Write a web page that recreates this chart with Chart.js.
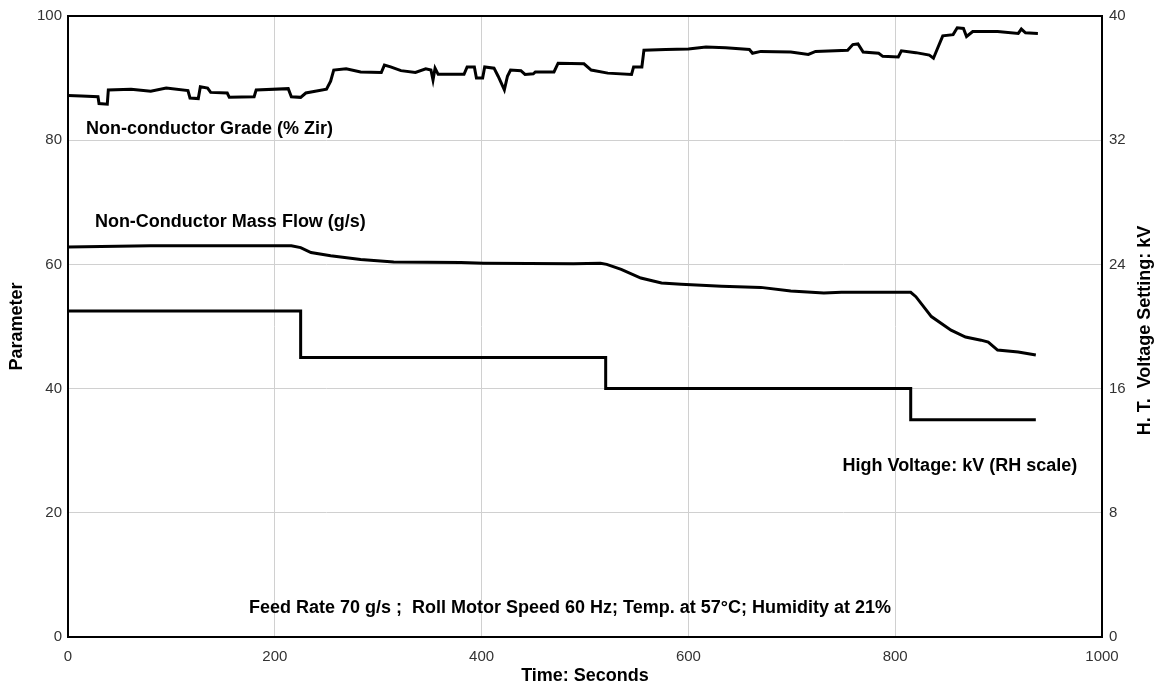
<!DOCTYPE html>
<html>
<head>
<meta charset="utf-8">
<script src="https://cdn.jsdelivr.net/npm/chart.js@4/dist/chart.umd.min.js"></script>
<style>
  html, body { margin: 0; padding: 0; background: #ffffff; }
  #wrap { width: 1161px; height: 688px; }
</style>
</head>
<body>
<div id="wrap"><canvas id="c" width="1161" height="688"></canvas></div>
<script>
// ---- Data ----
const gradeTime = [0, 13, 29, 30, 38, 39, 61, 80, 95, 116, 118, 126, 128, 135, 138, 154, 156, 180, 182, 213, 216, 225, 230, 250, 254, 257, 269, 283, 303, 306, 312, 322, 336, 346, 351, 353, 355, 358, 383, 386, 393, 395, 401, 403, 412, 416, 422, 425, 428, 438, 442, 450, 452, 470, 474, 499, 506, 522, 545, 547, 555, 557, 578, 600, 617, 636, 659, 662, 670, 699, 716, 723, 754, 759, 764, 769, 784, 788, 803, 806, 820, 833, 837, 841, 846, 856, 860, 866, 869, 875, 899, 919, 922, 926, 938];
const gradeValues = [87.2, 87.1, 87.0, 85.9, 85.8, 88.1, 88.2, 87.9, 88.4, 88.0, 86.8, 86.7, 88.6, 88.4, 87.7, 87.6, 86.9, 87.0, 88.1, 88.3, 87.0, 86.9, 87.6, 88.2, 89.5, 91.3, 91.5, 91.0, 90.9, 92.1, 91.8, 91.2, 90.9, 91.5, 91.3, 89.7, 91.6, 90.6, 90.6, 91.8, 91.8, 90.0, 90.0, 91.8, 91.6, 90.3, 88.1, 90.3, 91.3, 91.2, 90.6, 90.7, 91.0, 91.0, 92.4, 92.3, 91.3, 90.8, 90.6, 91.8, 91.8, 94.5, 94.6, 94.7, 95.0, 94.9, 94.6, 94.0, 94.3, 94.2, 93.8, 94.3, 94.5, 95.4, 95.5, 94.2, 94.0, 93.5, 93.4, 94.4, 94.1, 93.7, 93.2, 94.8, 96.8, 97.0, 98.1, 98.0, 96.7, 97.5, 97.5, 97.2, 97.9, 97.3, 97.2];

const flowTime = [0, 80, 177, 216, 225, 235, 254, 283, 315, 380, 402, 489, 515, 521, 535, 554, 574, 593, 632, 670, 699, 731, 748, 777, 815, 820, 835, 854, 868, 883, 890, 899, 919, 936];
const flowValues = [62.8, 63.0, 63.0, 63.0, 62.7, 61.9, 61.4, 60.8, 60.4, 60.3, 60.2, 60.1, 60.2, 60.0, 59.2, 57.8, 57.0, 56.8, 56.5, 56.3, 55.7, 55.4, 55.5, 55.5, 55.5, 54.8, 51.6, 49.4, 48.3, 47.8, 47.5, 46.2, 45.9, 45.4];

const voltageTime = [0, 225, 520, 815, 936];
const voltageValues = [21, 18, 16, 14, 14];   // kV, right-hand scale (step changes)

const xTicks = [0, 200, 400, 600, 800, 1000];
const leftTicks = [0, 20, 40, 60, 80, 100];
const rightTicks = [0, 8, 16, 24, 32, 40];

// ---- Text ----
const labelGrade = 'Non-conductor Grade (% Zir)';
const labelFlow = 'Non-Conductor Mass Flow (g/s)';
const labelVoltage = 'High Voltage: kV (RH scale)';
const labelConditions = 'Feed Rate 70 g/s ;  Roll Motor Speed 60 Hz; Temp. at 57\u00B0C; Humidity at 21%';
const rightTitle = 'H. T.  Voltage Setting: kV';

// annotations anchored in data coordinates
const annotations = [
  { text: labelGrade, t: 17.5, v: 81.8 },
  { text: labelFlow, t: 26, v: 66.9 },
  { text: labelVoltage, t: 749, v: 27.5 },
  { text: labelConditions, t: 175, v: 4.7 }
];

const toPoints = (xs, ys) => xs.map((x, i) => ({ x: x, y: ys[i] }));

const FONT = "'Liberation Sans', Arial, Helvetica, sans-serif";

const frameAndText = {
  id: 'frameAndText',
  afterDatasetsDraw(chart) {
    const ctx = chart.ctx;
    const a = chart.chartArea;
    const xs = chart.scales.x, ys = chart.scales.y, y2 = chart.scales.y2;
    ctx.save();
    ctx.fillStyle = '#000';
    ctx.font = 'bold 18px ' + FONT;
    ctx.textAlign = 'left';
    ctx.textBaseline = 'middle';
    annotations.forEach(an => {
      ctx.fillText(an.text, xs.getPixelForValue(an.t), ys.getPixelForValue(an.v));
    });
    // right axis title, reading bottom-to-top
    ctx.save();
    ctx.translate(y2.right - 16, (a.top + a.bottom) / 2 + 4);
    ctx.rotate(-Math.PI / 2);
    ctx.textAlign = 'center';
    ctx.fillText(rightTitle, 0, 0);
    ctx.restore();
    ctx.strokeStyle = '#000';
    ctx.lineWidth = 2;
    ctx.strokeRect(a.left, a.top, a.right - a.left, a.bottom - a.top);
    ctx.restore();
  }
};

new Chart(document.getElementById('c'), {
  type: 'line',
  data: {
    datasets: [
      {
        label: labelGrade,
        data: toPoints(gradeTime, gradeValues),
        yAxisID: 'y',
        borderColor: '#000', borderWidth: 3, pointRadius: 0, tension: 0, fill: false
      },
      {
        label: labelFlow,
        data: toPoints(flowTime, flowValues),
        yAxisID: 'y',
        borderColor: '#000', borderWidth: 3, pointRadius: 0, tension: 0, fill: false
      },
      {
        label: labelVoltage,
        data: toPoints(voltageTime, voltageValues),
        yAxisID: 'y2',
        stepped: 'before',
        borderColor: '#000', borderWidth: 3, pointRadius: 0, tension: 0, fill: false
      }
    ]
  },
  options: {
    responsive: false,
    animation: false,
    devicePixelRatio: 1,
    layout: { padding: { top: 15, left: 0, right: 0, bottom: 0 } },
    plugins: { legend: { display: false }, tooltip: { enabled: false } },
    scales: {
      x: {
        type: 'linear',
        min: 0, max: 1000,
        afterBuildTicks: s => { s.ticks = xTicks.map(v => ({ value: v })); },
        afterFit: s => { s.height = 51; },
        grid: { color: '#d0d0d0', lineWidth: 1, drawTicks: false },
        border: { display: false },
        ticks: { color: '#333', font: { family: FONT, size: 15 }, padding: 11, maxRotation: 0, callback: v => String(v) },
        title: { display: true, text: 'Time: Seconds', color: '#000', font: { family: FONT, size: 18, weight: 'bold' }, padding: { top: 0, bottom: 1 } }
      },
      y: {
        type: 'linear', position: 'left',
        min: 0, max: 100,
        afterBuildTicks: s => { s.ticks = leftTicks.map(v => ({ value: v })); },
        afterFit: s => { s.width = 68; },
        grid: { color: '#d0d0d0', lineWidth: 1, drawTicks: false },
        border: { display: false },
        ticks: { color: '#333', font: { family: FONT, size: 15 }, padding: 6, callback: v => String(v) },
        title: { display: true, text: 'Parameter', color: '#000', font: { family: FONT, size: 18, weight: 'bold' }, padding: { top: 6, bottom: 0 } }
      },
      y2: {
        type: 'linear', position: 'right',
        min: 0, max: 40,
        afterBuildTicks: s => { s.ticks = rightTicks.map(v => ({ value: v })); },
        afterFit: s => { s.width = 59; },
        grid: { display: false, drawTicks: false },
        border: { display: false },
        ticks: { color: '#333', font: { family: FONT, size: 15 }, padding: 7, callback: v => String(v) },
        title: { display: false }
      }
    }
  },
  plugins: [frameAndText]
});
</script>
</body>
</html>
